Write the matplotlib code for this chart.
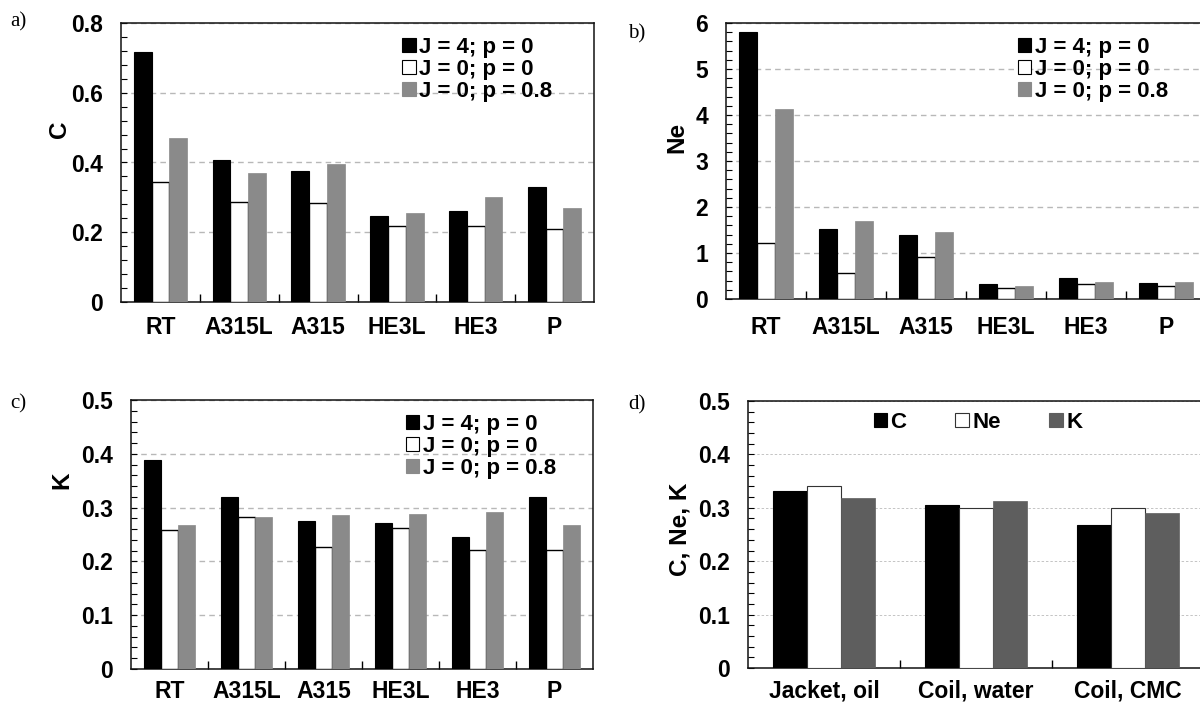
import matplotlib
matplotlib.use("Agg")
import matplotlib.pyplot as plt
import numpy as np
from matplotlib.patches import Patch
from matplotlib.ticker import MultipleLocator, FixedLocator, NullFormatter

# ── Data ─────────────────────────────────────────────────────
impellers = ["RT", "A315L", "A315", "HE3L", "HE3", "P"]
series_names = ["J = 4; p = 0", "J = 0; p = 0", "J = 0; p = 0.8"]

c_j4 = [0.717, 0.407, 0.377, 0.247, 0.262, 0.329]
c_j0 = [0.343, 0.288, 0.284, 0.217, 0.217, 0.210]
c_p08 = [0.470, 0.371, 0.397, 0.255, 0.301, 0.270]

ne_j4 = [5.80, 1.52, 1.39, 0.33, 0.45, 0.34]
ne_j0 = [1.22, 0.56, 0.91, 0.23, 0.32, 0.28]
ne_p08 = [4.14, 1.70, 1.46, 0.28, 0.38, 0.36]

k_j4 = [0.388, 0.319, 0.275, 0.272, 0.245, 0.319]
k_j0 = [0.258, 0.283, 0.226, 0.263, 0.221, 0.221]
k_p08 = [0.268, 0.283, 0.286, 0.289, 0.291, 0.267]

systems = ["Jacket, oil", "Coil, water", "Coil, CMC"]
d_names = ["C", "Ne", "K"]
d_c = [0.332, 0.305, 0.267]
d_ne = [0.341, 0.299, 0.299]
d_k = [0.319, 0.313, 0.290]
# ─────────────────────────────────────────────────────────────

plt.rcParams["font.family"] = ["Liberation Sans", "DejaVu Sans"]
plt.rcParams["font.weight"] = "bold"

W, H = 1200, 706
fig = plt.figure(figsize=(W / 100, H / 100), dpi=100)


def px_axes(l, t, r, b):
    return fig.add_axes([l / W, 1 - b / H, (r - l) / W, (b - t) / H])


GRAY = "#8a8a8a"
DGRAY = "#5e5e5e"
TICK_FS = 16.5
LEG_FS = 16
styles = [
    dict(color="black", edgecolor="black", linewidth=0.8),
    dict(color="white", edgecolor="black", linewidth=1.0),
    dict(color=GRAY, edgecolor=GRAY, linewidth=0.5),
]


def grouped(ax, cats, series, ymax, major, minor, xpad, d_style=False):
    x = np.arange(len(cats))
    w = 0.225
    for i, vals in enumerate(series):
        st = dict(styles[i])
        if d_style and i == 2:
            st = dict(color=DGRAY, edgecolor=DGRAY, linewidth=0.5)
        if d_style and i == 1:
            st = dict(color="white", edgecolor="#333333", linewidth=0.8)
        ax.bar(x + (i - 1) * w, vals, w, zorder=3, **st)
    ax.set_xlim(-0.5, len(cats) - 0.5)
    ax.set_ylim(0, ymax)
    ax.yaxis.set_major_locator(MultipleLocator(major))
    ax.yaxis.set_minor_locator(MultipleLocator(minor))
    ax.yaxis.set_major_formatter(
        plt.FuncFormatter(lambda v, p: "0" if abs(v) < 1e-9 else f"{v:g}"))
    ax.tick_params(axis="y", which="both", direction="in", length=4,
                   width=0.8, labelsize=TICK_FS, pad=13)
    # category boundary ticks + centred labels
    ax.xaxis.set_major_locator(FixedLocator(np.arange(0.5, len(cats) - 0.5)))
    ax.xaxis.set_major_formatter(NullFormatter())
    ax.xaxis.set_minor_locator(FixedLocator(x))
    ax.set_xticklabels(cats, minor=True)
    ax.tick_params(axis="x", which="major", direction="in", length=6, width=1)
    ax.tick_params(axis="x", which="minor", length=0, labelsize=TICK_FS, pad=xpad)
    for lab in ax.get_xticklabels(minor=True) + ax.get_yticklabels():
        lab.set_fontweight("bold")
    for s in ax.spines.values():
        s.set_linewidth(1.1)
        s.set_color("#111111")
    ax.set_axisbelow(True)
    if d_style:
        ax.yaxis.grid(True, which="major", color="#c4c4c4", linestyle=(0, (2.5, 2)),
                      linewidth=0.7)
    else:
        ax.yaxis.grid(True, which="major", color="#b8b8b8", linestyle=(0, (4, 3)),
                      linewidth=1.0)


def add_legend(ax, names, fc, ec, x, y, ncol=1, colsp=2.0, fs=LEG_FS):
    handles = [Patch(facecolor=f, edgecolor=e, linewidth=0.8) for f, e in zip(fc, ec)]
    ax.legend(handles, names, loc="upper left", bbox_to_anchor=(x, y),
              frameon=False, ncol=ncol, borderpad=0, borderaxespad=0,
              handlelength=0.6, handleheight=0.6, handletextpad=0.15,
              labelspacing=0.05, columnspacing=colsp,
              prop=dict(weight="bold", size=fs))


leg_fc = ["black", "white", GRAY]
leg_ec = ["black", "black", GRAY]

# a) C
ax_a = px_axes(121, 23, 594, 302)
grouped(ax_a, impellers, [c_j4, c_j0, c_p08], 0.8, 0.2, 0.04, xpad=10)
ax_a.set_ylabel("C", fontsize=17.5, fontweight="bold")
ax_a.yaxis.set_label_coords(-0.105, 0.62)
add_legend(ax_a, series_names, leg_fc, leg_ec, 0.595, 0.95)

# b) Ne
ax_b = px_axes(726, 23, 1206, 299)
grouped(ax_b, impellers, [ne_j4, ne_j0, ne_p08], 6, 1, 0.2, xpad=12)
ax_b.set_ylabel("Ne", fontsize=17.5, fontweight="bold")
ax_b.yaxis.set_label_coords(-0.079, 0.585)
add_legend(ax_b, series_names, leg_fc, leg_ec, 0.608, 0.95)

# c) K
ax_c = px_axes(131, 400, 593, 669)
grouped(ax_c, impellers, [k_j4, k_j0, k_p08], 0.5, 0.1, 0.02, xpad=8)
ax_c.set_ylabel("K", fontsize=17.5, fontweight="bold")
ax_c.yaxis.set_label_coords(-0.124, 0.7)
add_legend(ax_c, series_names, leg_fc, leg_ec, 0.595, 0.948)

# d) C, Ne, K
ax_d = px_axes(748, 401, 1204, 668)
grouped(ax_d, systems, [d_c, d_ne, d_k], 0.5, 0.1, 0.02, xpad=8, d_style=True)
ax_d.set_ylabel("C, Ne, K", fontsize=17.5, fontweight="bold")
ax_d.yaxis.set_label_coords(-0.125, 0.52)
add_legend(ax_d, d_names, ["black", "white", DGRAY], ["black", "#333333", DGRAY],
           0.276, 0.96, ncol=3, colsp=2.2)

# panel letters
for lab, (px, py) in zip(["a)", "b)", "c)", "d)"],
                         [(10, 22), (628, 34), (10, 404), (628, 405)]):
    fig.text(px / W, 1 - py / H, lab, fontsize=15, family="Liberation Serif",
             fontweight="normal", va="center", ha="left")

fig.savefig("out.png", dpi=100)
